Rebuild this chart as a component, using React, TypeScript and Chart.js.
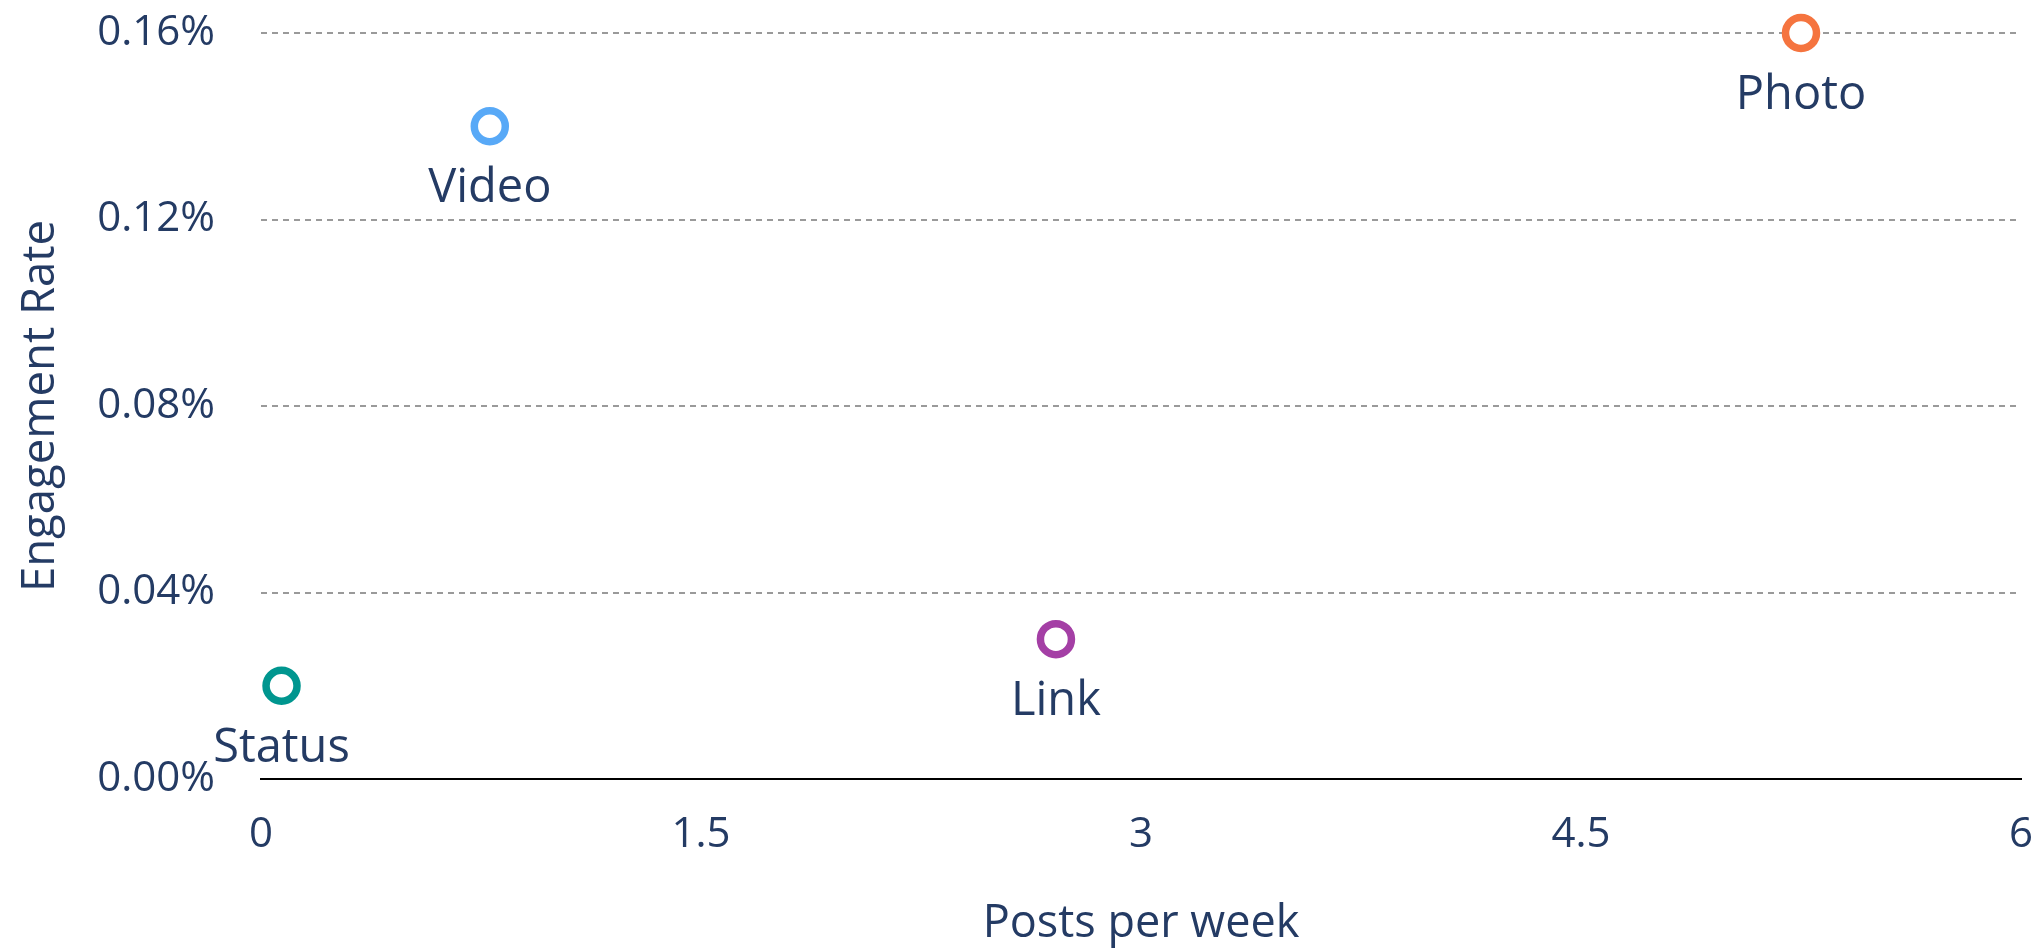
import React, { useEffect, useRef } from "react";
import { Chart, registerables } from "chart.js";

Chart.register(...registerables);

const categories = ["Status", "Video", "Link", "Photo"];
const postsPerWeek = [0.07, 0.78, 2.71, 5.25];
const engagementRate = [0.02, 0.14, 0.03, 0.16];
const pointColors = ["#00968F", "#58A9F7", "#A43FA5", "#F5743F"];
const xTicks = [0, 1.5, 3, 4.5, 6];
const yTicks = [0, 0.04, 0.08, 0.12, 0.16];

const TEXT = "#243B64";
const FONT = "'Open Sans', sans-serif";

const pointLabels = {
  id: "pointLabels",
  afterDatasetsDraw(chart: any) {
    const ctx = chart.ctx;
    const meta = chart.getDatasetMeta(0);
    ctx.save();
    ctx.fillStyle = TEXT;
    ctx.font = `47px ${FONT}`;
    ctx.textAlign = "center";
    ctx.textBaseline = "alphabetic";
    meta.data.forEach((el: any, i: number) => {
      ctx.fillText(categories[i], el.x, el.y + 76);
    });
    ctx.restore();
  },
};

const zeroPad = (s: any) => {
  s.paddingTop = 0;
  s.paddingBottom = 0;
  s.paddingLeft = 0;
  s.paddingRight = 0;
};

export default function App() {
  const ref = useRef<HTMLCanvasElement>(null);
  useEffect(() => {
    if (!ref.current) return;
    const chart = new Chart(ref.current, {
      type: "scatter",
      data: {
        datasets: [
          {
            label: "Engagement",
            data: postsPerWeek.map((x, i) => ({ x, y: engagementRate[i] })),
            pointRadius: 15.5,
            pointHoverRadius: 15.5,
            pointBorderWidth: 7.5,
            pointBackgroundColor: "#FFFFFF",
            pointBorderColor: pointColors,
            clip: false as any,
          },
        ],
      },
      options: {
        responsive: true,
        maintainAspectRatio: false,
        animation: false,
        layout: { autoPadding: false, padding: { left: 0, right: 20, top: 33, bottom: 0 } },
        plugins: { legend: { display: false }, tooltip: { enabled: false } },
        scales: {
          x: {
            type: "linear",
            min: 0,
            max: 6,
            afterBuildTicks: (s: any) => {
              s.ticks = xTicks.map((v) => ({ value: v }));
            },
            afterFit: (s: any) => {
              s.height = 173;
              zeroPad(s);
            },
            grid: { display: false, drawTicks: false },
            border: { display: true, color: "#000000", width: 2 },
            ticks: {
              padding: 31,
              color: TEXT,
              font: { family: FONT, size: 42 },
              callback: (v: any) => String(v),
            },
            title: {
              display: true,
              text: "Posts per week",
              color: TEXT,
              font: { family: FONT, size: 45 },
              padding: { top: 0, bottom: 0.5 },
            },
          },
          y: {
            type: "linear",
            min: 0,
            max: 0.16,
            afterBuildTicks: (s: any) => {
              s.ticks = yTicks.map((v) => ({ value: v }));
            },
            afterFit: (s: any) => {
              s.width = 261;
              zeroPad(s);
            },
            grid: {
              display: true,
              drawTicks: false,
              lineWidth: 2,
              color: (c: any) => (c.tick && c.tick.value === 0 ? "rgba(0,0,0,0)" : "#9A9A9A"),
            },
            border: { display: false, dash: [6, 5] },
            ticks: {
              padding: 46,
              color: TEXT,
              font: { family: FONT, size: 42 },
              callback: (v: any) => Number(v).toFixed(2) + "%",
            },
            title: {
              display: true,
              text: "Engagement Rate",
              color: TEXT,
              font: { family: FONT, size: 45.5 },
              padding: { top: 13.5, bottom: 0 },
            },
          },
        },
      },
      plugins: [pointLabels],
    });
    return () => chart.destroy();
  }, []);
  return (
    <div style={{ position: "absolute", left: 0, top: 0, width: 2041, height: 952 }}>
      <canvas ref={ref} />
    </div>
  );
}
